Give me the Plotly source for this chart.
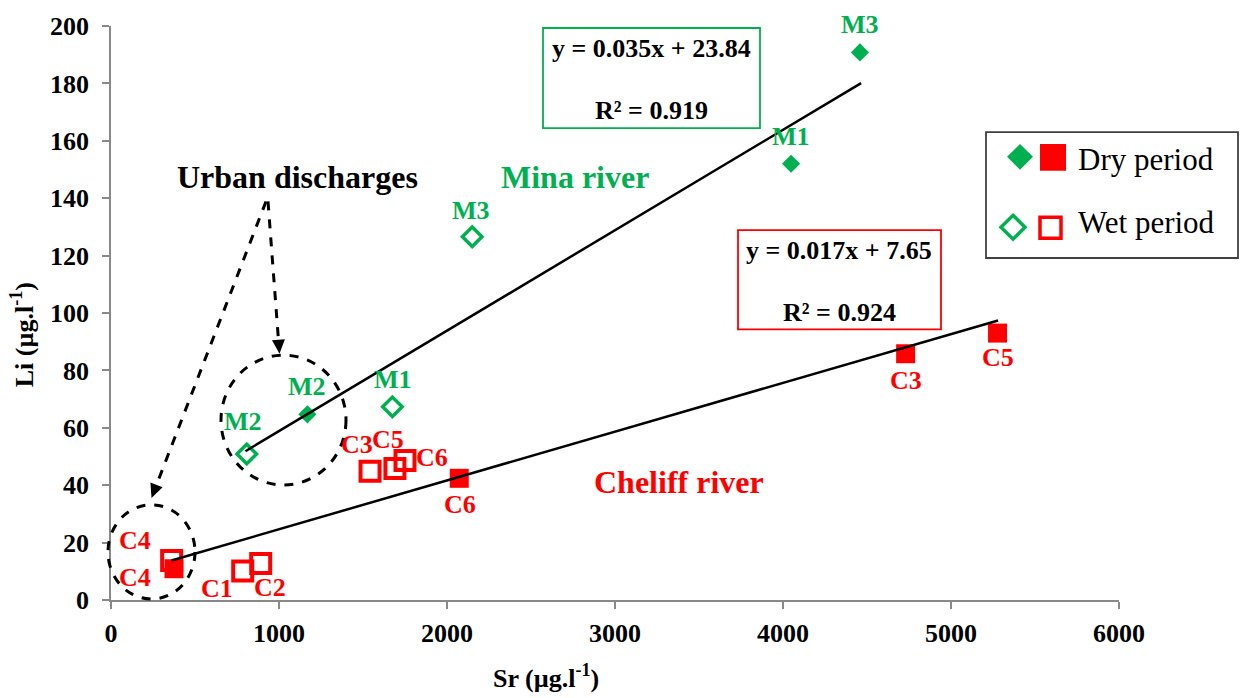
import math
import plotly.graph_objects as go

# ---------------- data ----------------
mina_dry_names = ["M3", "M1", "M2"]
mina_dry_sr = [4458, 4048, 1169]
mina_dry_li = [190.8, 152.0, 64.7]

mina_wet_names = ["M3", "M1", "M2"]
mina_wet_sr = [2150, 1675, 808]
mina_wet_li = [126.6, 67.3, 50.9]

cheliff_dry_names = ["C3", "C5", "C6", "C4"]
cheliff_dry_sr = [4730, 5277, 2073, 375]
cheliff_dry_li = [85.8, 93.0, 42.4, 10.9]

cheliff_wet_names = ["C1", "C2", "C3", "C4", "C5", "C6"]
cheliff_wet_sr = [784, 891, 1542, 361, 1690, 1750]
cheliff_wet_li = [10.1, 12.7, 44.9, 13.8, 45.8, 48.6]

mina_slope, mina_intercept, mina_r2 = 0.035, 23.84, 0.919
mina_fit_sr = [800, 4465]
cheliff_slope, cheliff_intercept, cheliff_r2 = 0.017, 7.65, 0.924
cheliff_fit_sr = [360, 5280]

x_ticks = [0, 1000, 2000, 3000, 4000, 5000, 6000]
y_ticks = [0, 20, 40, 60, 80, 100, 120, 140, 160, 180, 200]

# ---------------- styles ----------------
GREEN = "#00B050"
RED = "#FF0000"
GREY = "#898989"
FONT = "Liberation Serif"

W, H = 1243, 698
L, R, T, B = 111, 124, 21, 98
PW, PH = W - L - R, H - T - B
BOT = H - B


def PX(p):
    return (p - L) / PW


def PY(p):
    return (BOT - p) / PH


# label offsets (pixels) for point labels
mina_dry_off = {"M3": (0, 28), "M1": (0, 27), "M2": (0, 28)}
mina_wet_off = {"M3": (-1, 26), "M1": (1, 27), "M2": (-4, 32)}
cheliff_dry_off = {"C3": (0, -27), "C5": (0, -24), "C6": (1, -26), "C4": (-39, -9)}
cheliff_wet_off = {"C1": (-26, -17), "C2": (9, -24), "C3": (-13, 27),
                   "C4": (-37, 20), "C5": (-7, 29), "C6": (27, 3)}

fig = go.Figure()

fig.add_trace(go.Scatter(x=cheliff_wet_sr, y=cheliff_wet_li, mode="markers",
                         marker=dict(symbol="square-open", size=19, color=RED,
                                     line=dict(width=4, color=RED)),
                         showlegend=False, hoverinfo="skip"))
fig.add_trace(go.Scatter(x=cheliff_dry_sr, y=cheliff_dry_li, mode="markers",
                         marker=dict(symbol="square", size=19, color=RED, line=dict(width=0)),
                         showlegend=False, hoverinfo="skip"))
fig.add_trace(go.Scatter(x=mina_wet_sr, y=mina_wet_li, mode="markers",
                         marker=dict(symbol="diamond-open", size=15, color=GREEN,
                                     line=dict(width=3.5, color=GREEN)),
                         showlegend=False, hoverinfo="skip"))
fig.add_trace(go.Scatter(x=mina_dry_sr, y=mina_dry_li, mode="markers",
                         marker=dict(symbol="diamond", size=14, color=GREEN, line=dict(width=0)),
                         showlegend=False, hoverinfo="skip"))

# regression lines
fig.add_trace(go.Scatter(x=mina_fit_sr, y=[mina_slope * v + mina_intercept for v in mina_fit_sr],
                         mode="lines", line=dict(color="black", width=2.5),
                         showlegend=False, hoverinfo="skip"))
fig.add_trace(go.Scatter(x=cheliff_fit_sr, y=[cheliff_slope * v + cheliff_intercept for v in cheliff_fit_sr],
                         mode="lines", line=dict(color="black", width=2.5),
                         showlegend=False, hoverinfo="skip"))

annotations = []


def add_labels(names, xs, ys, offs, color):
    for n, xv, yv in zip(names, xs, ys):
        dx, dy = offs[n]
        annotations.append(dict(x=xv, y=yv, xref="x", yref="y", text=f"<b>{n}</b>", showarrow=False,
                                xshift=dx, yshift=dy,
                                font=dict(family=FONT, size=26, color=color)))


add_labels(mina_dry_names, mina_dry_sr, mina_dry_li, mina_dry_off, GREEN)
add_labels(mina_wet_names, mina_wet_sr, mina_wet_li, mina_wet_off, GREEN)
add_labels(cheliff_dry_names, cheliff_dry_sr, cheliff_dry_li, cheliff_dry_off, RED)
add_labels(cheliff_wet_names, cheliff_wet_sr, cheliff_wet_li, cheliff_wet_off, RED)


def ptext(px, py, text, size=32, color="black", bold=True, xanchor="center", angle=0):
    annotations.append(dict(x=PX(px), y=PY(py), xref="paper", yref="paper",
                            text=f"<b>{text}</b>" if bold else text,
                            showarrow=False, xanchor=xanchor, yanchor="middle", textangle=angle,
                            font=dict(family=FONT, size=size, color=color)))


ptext(297, 173, "Urban discharges")
ptext(575, 173, "Mina river", color=GREEN)
ptext(679, 481, "Cheliff river", color=RED)

# equation boxes
ptext(651, 44, f"y = {mina_slope}x + {mina_intercept}", size=26)
ptext(651, 106, f"R² = {mina_r2}", size=26)
ptext(839, 247, f"y = {cheliff_slope}x + {cheliff_intercept}", size=26)
ptext(839, 310, f"R² = {cheliff_r2}", size=26)

# legend text
ptext(1076, 156, "Dry period", size=31, bold=False, xanchor="left")
ptext(1076, 219, "Wet period", size=31, bold=False, xanchor="left")

# axis titles
ptext(546, 677, "Sr (µg.l<sup>-1</sup>)", size=26)
ptext(22, 333, "Li (µg.l<sup>-1</sup>)", size=26, angle=-90)

shapes = []


def rect(x0, y0, x1, y1, color, width=1.5, fill=None):
    shapes.append(dict(type="rect", xref="paper", yref="paper",
                       x0=PX(x0), x1=PX(x1), y0=PY(y1), y1=PY(y0),
                       line=dict(color=color, width=width),
                       fillcolor=fill if fill else "rgba(0,0,0,0)"))


rect(543, 23, 760, 124, GREEN, 1.8)
rect(738, 227, 941, 327, RED, 1.8)
rect(986, 128, 1238, 255, "#404040", 1.8)


def diamond(cx, cy, h, color, filled, width=0):
    path = (f"M {PX(cx)},{PY(cy - h)} L {PX(cx + h)},{PY(cy)} "
            f"L {PX(cx)},{PY(cy + h)} L {PX(cx - h)},{PY(cy)} Z")
    shapes.append(dict(type="path", xref="paper", yref="paper", path=path,
                       fillcolor=color if filled else "rgba(0,0,0,0)",
                       line=dict(color=color, width=width)))


diamond(1020, 153, 13, GREEN, True, 0)
rect(1040, 140, 1066, 167, RED, 0, RED)
diamond(1013, 224, 12, GREEN, False, 3.5)
rect(1040, 214, 1061, 235, RED, 3.5)

# dashed circles
shapes.append(dict(type="circle", xref="paper", yref="paper",
                   x0=PX(221), x1=PX(346), y0=PY(484), y1=PY(353),
                   line=dict(color="black", width=3, dash="dash")))
shapes.append(dict(type="circle", xref="paper", yref="paper",
                   x0=PX(108), x1=PX(195), y0=PY(599), y1=PY(504),
                   line=dict(color="black", width=3, dash="dash")))


def arrow(x0, y0, x1, y1, head=14, half=6.5):
    dx, dy = x1 - x0, y1 - y0
    n = math.hypot(dx, dy)
    ux, uy = dx / n, dy / n
    bx, by = x1 - ux * head, y1 - uy * head
    shapes.append(dict(type="line", xref="paper", yref="paper",
                       x0=PX(x0), y0=PY(y0), x1=PX(bx), y1=PY(by),
                       line=dict(color="black", width=3, dash="dash")))
    px_, py_ = -uy, ux
    path = (f"M {PX(x1)},{PY(y1)} L {PX(bx + px_ * half)},{PY(by + py_ * half)} "
            f"L {PX(bx - px_ * half)},{PY(by - py_ * half)} Z")
    shapes.append(dict(type="path", xref="paper", yref="paper", path=path,
                       fillcolor="black", line=dict(color="black", width=0)))


arrow(268, 198, 279.5, 351.5)
arrow(266, 198, 151.5, 497)

axis_common = dict(showgrid=False, zeroline=False, showline=True, linecolor=GREY, linewidth=1.5,
                   ticks="outside", ticklen=7, tickcolor=GREY, tickwidth=1.5,
                   tickfont=dict(family=FONT, size=26, color="black", weight="bold"))

fig.update_layout(
    width=W, height=H,
    margin=dict(l=L, r=R, t=T, b=B),
    paper_bgcolor="white", plot_bgcolor="white",
    font=dict(family=FONT),
    xaxis=dict(range=[0, 6000], tickvals=x_ticks, ticklabelstandoff=2, **axis_common),
    yaxis=dict(range=[0, 200], tickvals=y_ticks, ticklabelstandoff=8, **axis_common),
    annotations=annotations,
    shapes=shapes,
    showlegend=False,
)

fig.write_html("out.html")
